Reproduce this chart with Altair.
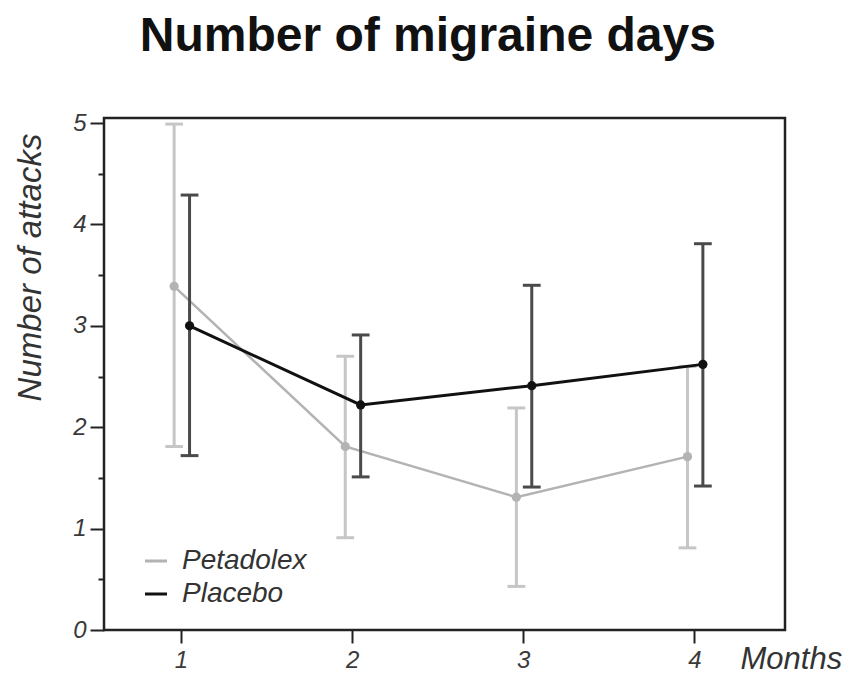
import altair as alt
import pandas as pd

months = [1, 2, 3, 4]
groups = ["Petadolex", "Placebo"]
petadolex_mean = [3.39, 1.81, 1.31, 1.71]
petadolex_low = [1.81, 0.91, 0.43, 0.81]
petadolex_high = [4.99, 2.70, 2.19, 2.60]
placebo_mean = [3.00, 2.22, 2.41, 2.62]
placebo_low = [1.72, 1.51, 1.41, 1.42]
placebo_high = [4.29, 2.91, 3.40, 3.81]
y_ticks = [0, 0.5, 1, 1.5, 2, 2.5, 3, 3.5, 4, 4.5, 5]

rows = []
for g, m_, lo_, hi_ in [("Petadolex", petadolex_mean, petadolex_low, petadolex_high),
                        ("Placebo", placebo_mean, placebo_low, placebo_high)]:
    for mo, m, lo, hi in zip(months, m_, lo_, hi_):
        rows.append({"month": mo, "group": g, "mean": m, "low": lo, "high": hi})
df = pd.DataFrame(rows)

FONT = "Liberation Sans"
line_colors = ["#b3b3b3", "#111111"]
bar_colors = ["#c6c6c6", "#4a4a4a"]

xscale = alt.Scale(domain=[0.55, 4.53], nice=False, zero=False)
yscale = alt.Scale(domain=[0, 5.05], nice=False, zero=False)

base = alt.Chart(df).transform_calculate(
    xpos="datum.month + (datum.group === 'Placebo' ? 0.05 : -0.04)"
).transform_calculate(
    xl="datum.xpos - 0.052", xr="datum.xpos + 0.052"
)

x_axis = alt.Axis(values=months, title="Months", format="d", grid=False, domain=False,
                  tickSize=13, tickWidth=2, tickColor="#222", labelPadding=5,
                  labelFont=FONT, labelFontSize=24, labelFontStyle="italic", labelColor="#3a3a3a",
                  titleFont=FONT, titleFontSize=31, titleFontStyle="italic", titleFontWeight="normal",
                  titleColor="#333", titleX=636, titleY=38, titleAlign="left",
                  titleBaseline="alphabetic", titleAnchor="start")
y_axis = alt.Axis(values=y_ticks, title="Number of attacks", grid=False, domain=False,
                  tickSize=alt.expr("datum.value % 1 === 0 ? 14 : 6"), tickWidth=2, tickColor="#222",
                  labelExpr="datum.value % 1 === 0 ? format(datum.value, 'd') : ''", labelPadding=4,
                  labelFont=FONT, labelFontSize=24, labelFontStyle="italic", labelColor="#3a3a3a",
                  titleFont=FONT, titleFontSize=33, titleFontStyle="italic", titleFontWeight="normal",
                  titleColor="#333", titleX=-64, titleY=149, titleAlign="center",
                  titleBaseline="alphabetic", titleAngle=270)

color = alt.Color("group:N", scale=alt.Scale(domain=groups, range=line_colors),
                  legend=alt.Legend(title=None, orient="none", legendX=38, legendY=429,
                                    symbolType="stroke", symbolSize=484, symbolStrokeWidth=3,
                                    labelFont=FONT, labelFontSize=28, labelFontStyle="italic",
                                    labelColor="#333", rowPadding=5, labelOffset=12))


def layer_for(i, g):
    b = base.transform_filter(alt.datum.group == g)
    bc = bar_colors[i]
    bars = b.mark_rule(strokeWidth=3, color=bc).encode(
        x=alt.X("xpos:Q", scale=xscale, axis=x_axis),
        y=alt.Y("low:Q", scale=yscale, axis=y_axis),
        y2="high:Q",
    )
    caps_hi = b.mark_rule(strokeWidth=3, color=bc).encode(
        x=alt.X("xl:Q", scale=xscale), x2="xr:Q", y=alt.Y("high:Q", scale=yscale))
    caps_lo = b.mark_rule(strokeWidth=3, color=bc).encode(
        x=alt.X("xl:Q", scale=xscale), x2="xr:Q", y=alt.Y("low:Q", scale=yscale))
    line = b.mark_line(strokeWidth=3 if g == "Placebo" else 2.5).encode(
        x=alt.X("xpos:Q", scale=xscale), y=alt.Y("mean:Q", scale=yscale), color=color)
    pts = b.mark_circle(size=85, opacity=1).encode(
        x=alt.X("xpos:Q", scale=xscale), y=alt.Y("mean:Q", scale=yscale), color=color)
    return [bars, caps_hi, caps_lo, line, pts]


layers = []
for i, g in enumerate(groups):
    layers += layer_for(i, g)

chart = alt.layer(*layers).properties(
    width=681, height=512,
    title=alt.TitleParams("Number of migraine days", font=FONT, fontSize=48, fontWeight="bold",
                          color="#111", anchor="middle", frame="bounds", offset=50),
    autosize=alt.AutoSizeParams(type="none"),
    padding={"left": 96, "top": 110, "right": 57, "bottom": 50},
    background="white",
).configure_view(stroke="#222", strokeWidth=2.5)

chart.save("out.html", embed_options={"renderer": "svg", "actions": False})
